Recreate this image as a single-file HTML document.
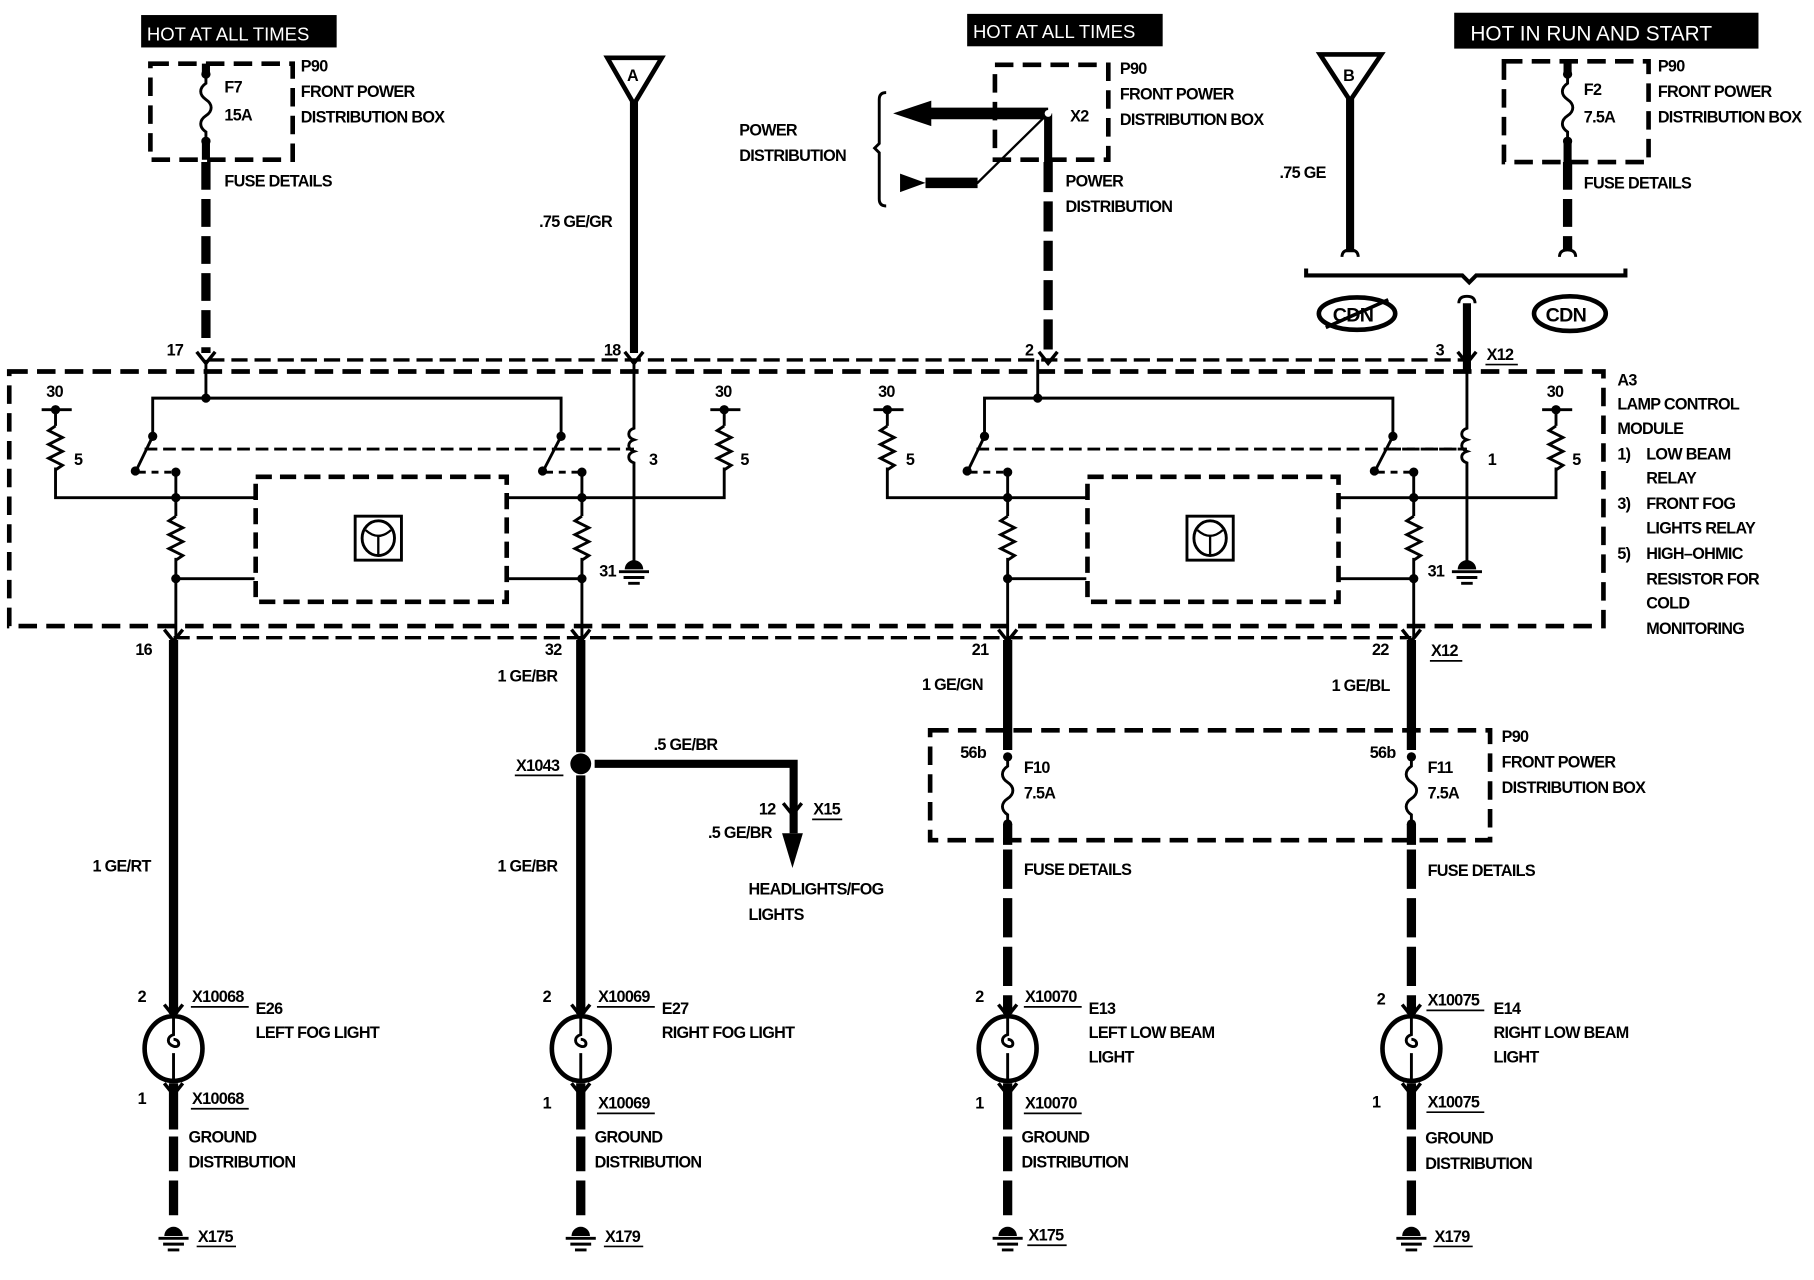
<!DOCTYPE html>
<html><head><meta charset="utf-8"><style>
html,body{margin:0;padding:0;background:#fff;}
svg{display:block;}
text{font-family:"Liberation Sans",sans-serif;font-weight:bold;font-size:14px;letter-spacing:-0.6px;fill:#000;}
.w{stroke:#000;fill:none;}
</style></head><body>
<svg width="1814" height="1280" viewBox="0 0 1568 1106" preserveAspectRatio="none" xmlns="http://www.w3.org/2000/svg">
<rect width="1568" height="1106" fill="#fff"/>
<defs>
<g id="fuse"><path d="M0,0 v8 c-6,4 -6,10 0,14 c6,4 6,10 0,14 c-6,4 -6,10 0,14 v8" class="w" stroke-width="2.5"/><circle cx="0" cy="0" r="4"/><circle cx="0" cy="58" r="4"/></g>
<g id="res"><path d="M0,0 l-6,4 l12,6 l-12,6 l12,6 l-12,6 l12,6 l-6,4" class="w" stroke-width="2.5"/></g>
<g id="lamp"><ellipse cx="0" cy="0" rx="25" ry="28" class="w" stroke-width="4"/><path d="M0,-28 v16 c-6,2 -6,8 0,10 c6,2 6,-6 0,-6 M0,4 v24" class="w" stroke-width="2.5"/></g>
<g id="gnd"><path d="M-8,0 a8,8 0 0 1 16,0 z" /><path d="M-13,2 h26 M-9,7 h18 M-5,12 h10" class="w" stroke-width="2.5"/></g>
<g id="arr"><path d="M-8,-8 L0,2 L8,-8" class="w" stroke-width="3"/></g>
<g id="lampcol">
<use href="#arr" x="0" y="876"/><use href="#lamp" x="0" y="906"/><use href="#arr" x="0" y="944"/>
<path d="M0,936 V976" class="w" stroke-width="8"/>
<path d="M0,982 V1055" class="w" stroke-width="8" stroke-dasharray="30 8"/>
<use href="#gnd" x="0" y="1068"/>
</g>
</defs>

<!-- header boxes -->
<rect x="122" y="13" width="169" height="28" fill="#000"/><text x="127" y="35" style="fill:#fff;font-weight:normal;font-size:16px;letter-spacing:0">HOT AT ALL TIMES</text>
<rect x="836" y="12" width="169" height="28" fill="#000"/><text x="841" y="33" style="fill:#fff;font-weight:normal;font-size:16px;letter-spacing:0">HOT AT ALL TIMES</text>
<rect x="1257" y="11" width="263" height="31" fill="#000"/><text x="1271" y="35" style="fill:#fff;font-weight:normal;font-size:18px;letter-spacing:0">HOT IN RUN AND START</text>

<!-- top-left fuse F7 -->
<rect x="130" y="55" width="123" height="83" class="w" stroke-width="4" stroke-dasharray="16 8"/>
<use href="#fuse" x="178" y="64"/>
<path d="M178,55 v9 M178,122 v16" class="w" stroke-width="7"/>
<path d="M178,140 V305" class="w" stroke-width="8" stroke-dasharray="24 8"/>
<text x="260" y="62">P90</text><text x="260" y="84">FRONT POWER</text><text x="260" y="106">DISTRIBUTION BOX</text>
<text x="194" y="80">F7</text><text x="194" y="104">15A</text>
<text x="194" y="161">FUSE DETAILS</text>

<!-- A -->
<path d="M525,50 H572 L548,90 Z" class="w" stroke-width="4"/><text x="542" y="70">A</text>
<path d="M548,88 V305" class="w" stroke-width="7"/>
<text x="466" y="196">.75 GE/GR</text>

<!-- X2 power distribution -->
<rect x="860" y="56" width="98" height="82" class="w" stroke-width="4" stroke-dasharray="16 8"/>
<path d="M906,98 V140" class="w" stroke-width="7"/>
<path d="M906,140 V305" class="w" stroke-width="8" stroke-dasharray="26 8"/>
<path d="M906,98 H800" class="w" stroke-width="10"/><path d="M805,87 L772,98 L805,109 Z"/>
<path d="M906,98 L845,158 H800" class="w" stroke-width="2"/><path d="M845,158 H800" class="w" stroke-width="9"/><path d="M778,150 L800,158 L778,166 Z"/>
<path d="M766,80 q-6,0 -6,6 v38 l-4,4 l4,4 v40 q0,6 6,6" class="w" stroke-width="2.5"/>
<circle cx="906" cy="98" r="3" fill="#fff"/>
<text x="639" y="117">POWER</text><text x="639" y="139">DISTRIBUTION</text>
<text x="925" y="105">X2</text>
<text x="968" y="64">P90</text><text x="968" y="86">FRONT POWER</text><text x="968" y="108">DISTRIBUTION BOX</text>
<text x="921" y="161">POWER</text><text x="921" y="183">DISTRIBUTION</text>

<!-- B -->
<path d="M1141,47 H1194 L1167,87 Z" class="w" stroke-width="4"/><text x="1161" y="70">B</text>
<path d="M1167,85 V218" class="w" stroke-width="7"/>
<path d="M1160,222 q0,-6 7,-6 q7,0 7,6" class="w" stroke-width="2.5"/>
<text x="1106" y="154">.75 GE</text>
<!-- F2 -->
<rect x="1300" y="53" width="125" height="87" class="w" stroke-width="4" stroke-dasharray="16 8"/>
<use href="#fuse" x="1355" y="64"/>
<path d="M1355,53 v11 M1355,122 v18" class="w" stroke-width="7"/>
<path d="M1355,140 V216" class="w" stroke-width="8" stroke-dasharray="24 8"/>
<path d="M1348,222 q0,-6 7,-6 q7,0 7,6" class="w" stroke-width="2.5"/>
<text x="1433" y="62">P90</text><text x="1433" y="84">FRONT POWER</text><text x="1433" y="106">DISTRIBUTION BOX</text>
<text x="1369" y="82">F2</text><text x="1369" y="106">7.5A</text>
<text x="1369" y="163">FUSE DETAILS</text>
<path d="M1129,232 v6 H1264 l6,6 l6,-6 H1405 v-6" class="w" stroke-width="3.5"/>
<path d="M1268,262 V321" class="w" stroke-width="7"/>
<path d="M1261,262 q0,-6 7,-6 q7,0 7,6" class="w" stroke-width="2.5"/>
<ellipse cx="1173" cy="271" rx="33" ry="14" class="w" stroke-width="4"/><text x="1152" y="278" style="font-size:17px">CDN</text>
<path d="M1146,283 L1200,259" class="w" stroke-width="3"/>
<ellipse cx="1357" cy="271" rx="31" ry="15" class="w" stroke-width="4"/><text x="1336" y="278" style="font-size:17px">CDN</text>

<!-- connector lines -->
<path d="M180,311 H1268" class="w" stroke-width="3" stroke-dasharray="14 6"/>
<path d="M150,551 H1220" class="w" stroke-width="3" stroke-dasharray="14 6"/>
<use href="#arr" x="178" y="312"/><use href="#arr" x="548" y="312"/><use href="#arr" x="906" y="312"/><use href="#arr" x="1268" y="312"/>
<use href="#arr" x="150" y="552"/><use href="#arr" x="502" y="552"/><use href="#arr" x="871" y="552"/><use href="#arr" x="1220" y="552"/>
<text x="144" y="307">17</text><text x="522" y="307">18</text><text x="886" y="307">2</text><text x="1241" y="307">3</text>
<text x="1285" y="311">X12</text><path d="M1284,315 h28" class="w" stroke-width="1.5"/>

<!-- module box -->
<path d="M8,321 H1386 V541 H8 Z" class="w" stroke-width="4" stroke-dasharray="16 8"/>
<text x="1398" y="333">A3</text><text x="1398" y="354">LAMP CONTROL</text><text x="1398" y="375">MODULE</text>
<text x="1398" y="397">1)</text><text x="1423" y="397">LOW BEAM</text><text x="1423" y="418">RELAY</text>
<text x="1398" y="440">3)</text><text x="1423" y="440">FRONT FOG</text><text x="1423" y="461">LIGHTS RELAY</text>
<text x="1398" y="483">5)</text><text x="1423" y="483">HIGH–OHMIC</text><text x="1423" y="505">RESISTOR FOR</text><text x="1423" y="526">COLD</text><text x="1423" y="548">MONITORING</text>

<g id="grp1">
<path d="M178,311 V344 M132,376 V344 H485 V376" class="w" stroke-width="2.5"/>
<circle cx="178" cy="344" r="4"/>
<circle cx="132" cy="377" r="4"/><path d="M132,377 L118,406" class="w" stroke-width="2.5"/><circle cx="117" cy="407" r="4"/>
<circle cx="485" cy="377" r="4"/><path d="M485,377 L470,406" class="w" stroke-width="2.5"/><circle cx="469" cy="407" r="4"/>
<path d="M125,388 H548" class="w" stroke-width="2.5" stroke-dasharray="11 5"/>
<path d="M120,408 H150 M472,408 H502" class="w" stroke-width="2.5" stroke-dasharray="6 5"/>
<circle cx="152" cy="408" r="4"/><circle cx="503" cy="408" r="4"/>
<path d="M36,354 H62 M48,354 V368 M48,404 V430 H220" class="w" stroke-width="2.5"/><circle cx="48" cy="354" r="4"/><use href="#res" x="48" y="368"/>
<path d="M614,354 H640 M626,354 V368 M626,404 V430 H438" class="w" stroke-width="2.5"/><circle cx="626" cy="354" r="4"/><use href="#res" x="626" y="368"/>
<text x="40" y="343">30</text><text x="618" y="343">30</text><text x="64" y="402">5</text><text x="640" y="402">5</text>
<path d="M152,408 V446 M152,482 V551 M152,500 H220" class="w" stroke-width="2.5"/><use href="#res" x="152" y="446"/>
<path d="M503,408 V446 M503,482 V551 M503,500 H438" class="w" stroke-width="2.5"/><use href="#res" x="503" y="446"/>
<circle cx="152" cy="430" r="4"/><circle cx="152" cy="500" r="4"/><circle cx="503" cy="430" r="4"/><circle cx="503" cy="500" r="4"/>
<rect x="221" y="412" width="217" height="108" class="w" stroke-width="4" stroke-dasharray="14 7"/>
<rect x="307" y="446" width="40" height="38" class="w" stroke-width="2.5"/>
<ellipse cx="327" cy="465" rx="14" ry="15" class="w" stroke-width="2.5"/><path d="M316,458 q11,10 22,0 M327,463 v16" class="w" stroke-width="2"/>
</g>
<path d="M548,311 V370 c-6,2 -6,8 0,10 c-6,2 -6,8 0,10 c-6,2 -6,8 0,10 V488" class="w" stroke-width="2.5"/>
<use href="#gnd" x="548" y="492"/><text x="561" y="402">3</text><text x="518" y="498">31</text>

<use href="#grp1" transform="translate(719,0)"/>
<path d="M1268,321 V370 c-6,2 -6,8 0,10 c-6,2 -6,8 0,10 c-6,2 -6,8 0,10 V488" class="w" stroke-width="2.5"/>
<use href="#gnd" x="1268" y="492"/><text x="1286" y="402">1</text><text x="1234" y="498">31</text>
<path d="M1200,388 H1268" class="w" stroke-width="2.5" stroke-dasharray="11 5"/>

<text x="117" y="566">16</text><text x="471" y="566">32</text><text x="840" y="566">21</text><text x="1186" y="566">22</text>
<text x="1237" y="567">X12</text><path d="M1236,571 h28" class="w" stroke-width="1.5"/>

<path d="M150,553 V876" class="w" stroke-width="8"/>
<text x="80" y="753">1 GE/RT</text>
<path d="M502,553 V650 M502,670 V876" class="w" stroke-width="8"/>
<circle cx="502" cy="660" r="9"/>
<path d="M514,660 H686 V720" class="w" stroke-width="7"/><path d="M676,720 L685,750 L694,720 Z"/><use href="#arr" x="685" y="702"/>
<text x="430" y="589">1 GE/BR</text><text x="430" y="753">1 GE/BR</text>
<text x="446" y="666">X1043</text><path d="M445,670 h42" class="w" stroke-width="1.5"/>
<text x="565" y="648">.5 GE/BR</text><text x="656" y="704">12</text><text x="703" y="704">X15</text><path d="M702,708 h26" class="w" stroke-width="1.5"/>
<text x="612" y="724">.5 GE/BR</text><text x="647" y="773">HEADLIGHTS/FOG</text><text x="647" y="795">LIGHTS</text>
<path d="M871,553 V648 M1220,553 V648" class="w" stroke-width="8"/>
<rect x="804" y="631" width="484" height="95" class="w" stroke-width="4" stroke-dasharray="16 8"/>
<use href="#fuse" x="871" y="654"/><use href="#fuse" x="1220" y="654"/>
<path d="M871,712 V730 M1220,712 V730" class="w" stroke-width="8"/>
<path d="M871,734 V876 M1220,734 V876" class="w" stroke-width="8" stroke-dasharray="34 8"/>
<text x="797" y="596">1 GE/GN</text><text x="1151" y="597">1 GE/BL</text>
<text x="830" y="655">56b</text><text x="1184" y="655">56b</text>
<text x="885" y="668">F10</text><text x="885" y="690">7.5A</text><text x="1234" y="668">F11</text><text x="1234" y="690">7.5A</text>
<text x="1298" y="641">P90</text><text x="1298" y="663">FRONT POWER</text><text x="1298" y="685">DISTRIBUTION BOX</text>
<text x="885" y="756">FUSE DETAILS</text><text x="1234" y="757">FUSE DETAILS</text>

<use href="#lampcol" x="150" y="0"/><use href="#lampcol" x="502" y="0"/><use href="#lampcol" x="871" y="0"/><use href="#lampcol" x="1220" y="0"/>

<text x="119" y="866">2</text><text x="119" y="954">1</text>
<text x="166" y="866">X10068</text><path d="M165,870 h50" class="w" stroke-width="1.5"/>
<text x="166" y="954">X10068</text><path d="M165,958 h50" class="w" stroke-width="1.5"/>
<text x="221" y="876">E26</text><text x="221" y="897">LEFT FOG LIGHT</text>
<text x="163" y="987">GROUND</text><text x="163" y="1009">DISTRIBUTION</text>
<text x="171" y="1073">X175</text><path d="M170,1077 h34" class="w" stroke-width="1.5"/>

<text x="469" y="866">2</text><text x="469" y="958">1</text>
<text x="517" y="866">X10069</text><path d="M516,870 h50" class="w" stroke-width="1.5"/>
<text x="517" y="958">X10069</text><path d="M516,962 h50" class="w" stroke-width="1.5"/>
<text x="572" y="876">E27</text><text x="572" y="897">RIGHT FOG LIGHT</text>
<text x="514" y="987">GROUND</text><text x="514" y="1009">DISTRIBUTION</text>
<text x="523" y="1073">X179</text><path d="M522,1077 h34" class="w" stroke-width="1.5"/>

<text x="843" y="866">2</text><text x="843" y="958">1</text>
<text x="886" y="866">X10070</text><path d="M885,870 h50" class="w" stroke-width="1.5"/>
<text x="886" y="958">X10070</text><path d="M885,962 h50" class="w" stroke-width="1.5"/>
<text x="941" y="876">E13</text><text x="941" y="897">LEFT LOW BEAM</text><text x="941" y="918">LIGHT</text>
<text x="883" y="987">GROUND</text><text x="883" y="1009">DISTRIBUTION</text>
<text x="889" y="1072">X175</text><path d="M888,1076 h34" class="w" stroke-width="1.5"/>

<text x="1190" y="868">2</text><text x="1186" y="957">1</text>
<text x="1234" y="869">X10075</text><path d="M1233,873 h50" class="w" stroke-width="1.5"/>
<text x="1234" y="957">X10075</text><path d="M1233,961 h50" class="w" stroke-width="1.5"/>
<text x="1291" y="876">E14</text><text x="1291" y="897">RIGHT LOW BEAM</text><text x="1291" y="918">LIGHT</text>
<text x="1232" y="988">GROUND</text><text x="1232" y="1010">DISTRIBUTION</text>
<text x="1240" y="1073">X179</text><path d="M1239,1077 h34" class="w" stroke-width="1.5"/>
</svg>
</body></html>
